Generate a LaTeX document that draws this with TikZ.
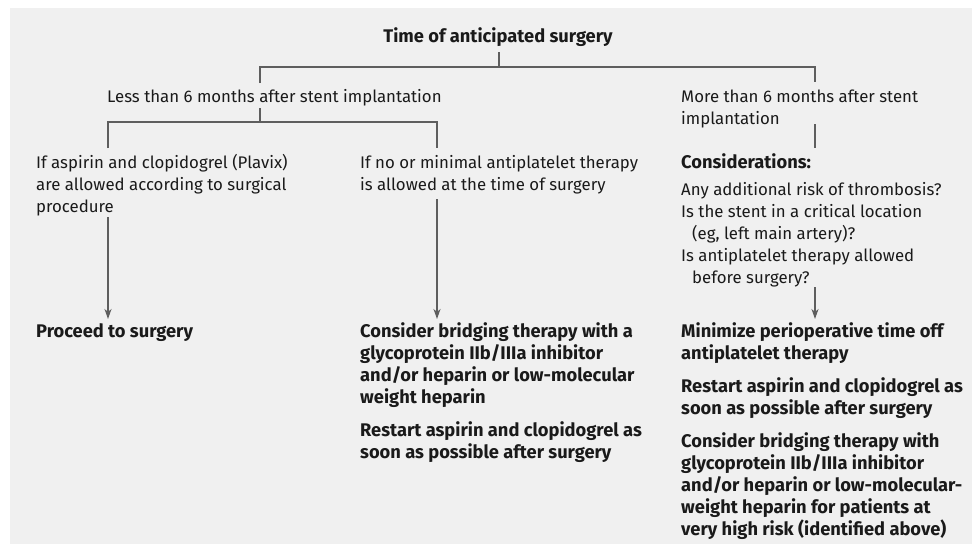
\documentclass[tikz,border=0pt]{standalone}
\usepackage{fontspec}
\setmainfont{Fira Sans}
\usetikzlibrary{arrows.meta}
\definecolor{bg}{HTML}{F0F0F0}
\definecolor{ln}{HTML}{5E5E5E}
\definecolor{tx}{HTML}{1A1A1A}
\begin{document}
\begin{tikzpicture}[x=1pt,y=-1pt,
  txt/.style={anchor=base west,inner sep=0pt,align=left,text=tx,font=\fontsize{16.8}{22}\selectfont},
  btxt/.style={txt,font=\fontsize{18.3}{22}\selectfont\bfseries},
  conn/.style={draw=ln,line width=1.5pt},
  arr/.style={conn,-{Stealth[length=10pt,width=7pt,inset=3pt]}}]
\useasboundingbox (0,0) rectangle (972,544);
\fill[white] (0,0) rectangle (972,544);
\fill[bg] (10,8) rectangle (972,544);
% texts (base anchor = baseline of last line)
\node[btxt,anchor=base] (title) at (498,42) {Time of anticipated surgery};
\node[txt] (less) at (107,102) {Less than 6 months after stent implantation};
\node[txt] (more) at (681,124) {More than 6 months after stent\\implantation};
\node[txt] (asp) at (36,212) {If aspirin and clopidogrel (Plavix)\\are allowed according to surgical\\procedure};
\node[txt] (nomin) at (360,190) {If no or minimal antiplatelet therapy\\is allowed at the time of surgery};
\node[btxt] (cons) at (681,168) {Considerations:};
\node[txt] (q) at (681,283) {Any additional risk of thrombosis?\\Is the stent in a critical location\\\hspace*{11pt}(eg, left main artery)?\\Is antiplatelet therapy allowed\\\hspace*{11pt}before surgery?};
\node[btxt] (proc) at (36,337) {Proceed to surgery};
\node[btxt] (bridge) at (360,403) {Consider bridging therapy with a\\glycoprotein IIb/IIIa inhibitor\\and/or heparin or low-molecular\\weight heparin};
\node[btxt] (restL) at (360,458) {Restart aspirin and clopidogrel as\\soon as possible after surgery};
\node[btxt] (mini) at (681,359) {Minimize perioperative time off\\antiplatelet therapy};
\node[btxt] (restR) at (681,414) {Restart aspirin and clopidogrel as\\soon as possible after surgery};
\node[btxt] (bridgeR) at (681,535) {Consider bridging therapy with\\glycoprotein IIb/IIIa inhibitor\\and/or heparin or low-molecular-\\weight heparin for patients at\\very high risk (identified above)};
% connector coordinates
\coordinate (t0) at (499,52);
\coordinate (t1) at (499,67);
\coordinate (bL) at (260,67);
\coordinate (bR) at (815,67);
\coordinate (lessTop) at (260,83);
\coordinate (moreTop) at (815,82);
\coordinate (l0) at (260,108);
\coordinate (l1) at (260,122);
\coordinate (aL) at (108,122);
\coordinate (aR) at (437,122);
\coordinate (aspTop) at (108,148);
\coordinate (nominTop) at (437,148);
\coordinate (m0) at (815,124);
\coordinate (m1) at (815,148);
\coordinate (aspBot) at (108,217);
\coordinate (nominBot) at (437,199);
\coordinate (qBot) at (815,287);
\coordinate (procTop) at (108,319);
\coordinate (bridgeTop) at (437,319);
\coordinate (miniTop) at (815,319);
\draw[conn] (t0) -- (t1);
\draw[conn] (lessTop) -- (bL) -- (bR) -- (moreTop);
\draw[conn] (l0) -- (l1);
\draw[conn] (aspTop) -- (aL) -- (aR) -- (nominTop);
\draw[conn] (m0) -- (m1);
\draw[arr] (aspBot) -- (procTop);
\draw[arr] (nominBot) -- (bridgeTop);
\draw[arr] (qBot) -- (miniTop);
\end{tikzpicture}
\end{document}
